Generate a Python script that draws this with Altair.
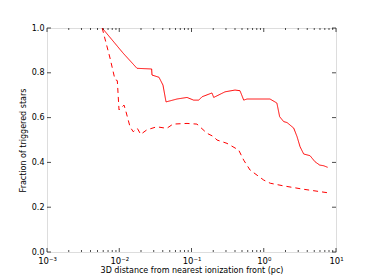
import altair as alt
import pandas as pd

solid_x = [0.0058, 0.0113, 0.0176, 0.0281, 0.0284, 0.0355, 0.0403, 0.0444, 0.063, 0.0867,
           0.107, 0.126, 0.140, 0.192, 0.203, 0.291, 0.400, 0.469, 0.528, 0.586,
           1.22, 1.52, 1.66, 1.89, 2.10, 2.60, 2.89, 3.18, 3.57, 4.37, 5.12, 5.95, 6.76, 7.67]
solid_y = [1.0, 0.888, 0.82, 0.817, 0.79, 0.78, 0.745, 0.67, 0.683, 0.69,
           0.678, 0.678, 0.693, 0.71, 0.69, 0.715, 0.723, 0.72, 0.678, 0.683,
           0.683, 0.665, 0.604, 0.582, 0.578, 0.553, 0.515, 0.47, 0.4375, 0.43, 0.403, 0.388, 0.385, 0.378]

dashed_x = [0.0058, 0.00745, 0.00873, 0.0094, 0.00993, 0.01164, 0.0124, 0.0141, 0.0156, 0.0178,
            0.0198, 0.024, 0.033, 0.0454, 0.0555, 0.0867, 0.119, 0.164, 0.203, 0.225,
            0.310, 0.450, 0.528, 0.646, 1.0, 1.23, 1.89, 3.57, 7.50]
dashed_y = [1.0, 0.866, 0.77, 0.765, 0.634, 0.656, 0.626, 0.559, 0.537, 0.552,
            0.525, 0.545, 0.559, 0.552, 0.571, 0.574, 0.571, 0.530, 0.515, 0.5,
            0.485, 0.455, 0.41, 0.366, 0.321, 0.307, 0.295, 0.28, 0.265]

x_major = [0.001, 0.01, 0.1, 1, 10]
x_minor = [m * d for d in [0.001, 0.01, 0.1, 1] for m in range(2, 10)]
y_major = [0.0, 0.2, 0.4, 0.6, 0.8, 1.0]

W, H = 289, 224
FONT = "DejaVu Sans"
xscale = alt.Scale(type="log", domain=[0.001, 10], nice=False)
yscale = alt.Scale(domain=[0, 1], nice=False)

rows = ([{"x": a, "y": b, "s": "solid"} for a, b in zip(solid_x, solid_y)] +
        [{"x": a, "y": b, "s": "dashed"} for a, b in zip(dashed_x, dashed_y)])
lines_df = pd.DataFrame(rows)

label_expr = ("datum.value == 0.001 ? '10⁻³' : datum.value == 0.01 ? '10⁻²' : "
              "datum.value == 0.1 ? '10⁻¹' : datum.value == 1 ? '10⁰' : '10¹'")

xaxis = alt.Axis(values=x_major, labelExpr=label_expr, tickSize=0, domain=False,
                 grid=False, labelPadding=4, labelFontSize=8.5, labelFont=FONT,
                 title="3D distance from nearest ionization front (pc)",
                 titleFont=FONT, titleFontSize=8, titleFontWeight="normal",
                 titlePadding=2, labelColor="black", titleColor="black",
                 labelFlush=False)
yaxis = alt.Axis(values=y_major, format=".1f", tickSize=0, domain=False, grid=False,
                 labelPadding=3, labelFontSize=8, labelFont=FONT,
                 title="Fraction of triggered stars", titleFont=FONT,
                 titleFontSize=8, titleFontWeight="normal", titlePadding=4,
                 labelColor="black", titleColor="black", labelFlush=False)

lines = alt.Chart(lines_df).mark_line(color="#ff0000", strokeWidth=1).encode(
    x=alt.X("x:Q", scale=xscale, axis=xaxis),
    y=alt.Y("y:Q", scale=yscale, axis=yaxis),
    detail="s:N",
    order="x:Q",
    strokeDash=alt.StrokeDash("s:N", scale=alt.Scale(domain=["solid", "dashed"],
                                                     range=[[1, 0], [5, 4]]), legend=None),
)

xmaj_df = pd.DataFrame({"x": x_major})
xmin_df = pd.DataFrame({"x": x_minor})
ymaj_df = pd.DataFrame({"y": y_major})

def xticks(df, ypos, size):
    return alt.Chart(df).mark_tick(orient="vertical", size=size, thickness=1, color="black").encode(
        x=alt.X("x:Q", scale=xscale), y=alt.value(ypos))

def yticks(xpos):
    return alt.Chart(ymaj_df).mark_tick(orient="horizontal", size=4, thickness=1, color="black").encode(
        y=alt.Y("y:Q", scale=yscale), x=alt.value(xpos))

chart = alt.layer(
    lines,
    xticks(xmaj_df, H - 2, 4), xticks(xmin_df, H - 1, 2),
    xticks(xmaj_df, 2, 4), xticks(xmin_df, 1, 2),
    yticks(2), yticks(W - 2),
).properties(
    width=W, height=H,
    autosize=alt.AutoSizeParams(type="none"),
    padding={"left": 39, "top": 20, "right": 20, "bottom": 28},
).configure_view(
    stroke="#333333", strokeWidth=1
).configure(background="white")

chart.save("out.html", embed_options={"renderer": "svg", "actions": False})
